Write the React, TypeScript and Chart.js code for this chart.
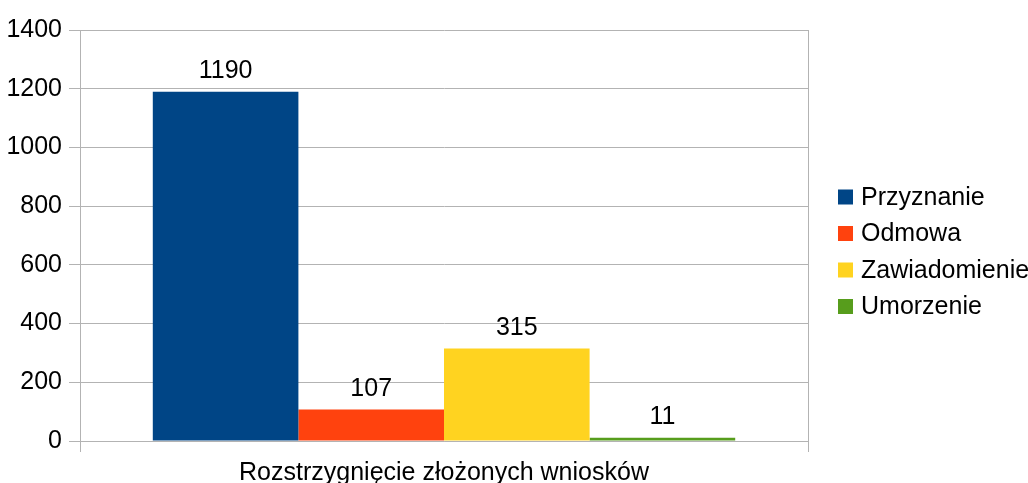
import React, { useEffect, useRef } from "react";
import { Chart, registerables } from "chart.js";

Chart.register(...registerables);

const categories = ["Rozstrzygnięcie złożonych wniosków"];
const seriesNames = ["Przyznanie", "Odmowa", "Zawiadomienie", "Umorzenie"];
const seriesValues = [[1190], [107], [315], [11]];
const seriesColors = ["#004586", "#ff420e", "#ffd320", "#579d1c"];
const yTicks = [0, 200, 400, 600, 800, 1000, 1200, 1400];

const FONT = "Liberation Sans, Arial, sans-serif";
const FONT_SIZE = 25;

const labelsPlugin = {
  id: "valueLabels",
  afterDatasetsDraw(chart: any) {
    const ctx = chart.ctx;
    ctx.save();
    ctx.font = `${FONT_SIZE}px ${FONT}`;
    ctx.fillStyle = "#000";
    ctx.textAlign = "center";
    ctx.textBaseline = "alphabetic";
    chart.data.datasets.forEach((ds: any, i: number) => {
      const meta = chart.getDatasetMeta(i);
      meta.data.forEach((bar: any, j: number) => {
        ctx.fillText(String(ds.data[j]), bar.x, bar.y - 14);
      });
    });
    ctx.restore();
  },
};

const legendPlugin = {
  id: "customLegend",
  afterDraw(chart: any) {
    const ctx = chart.ctx;
    ctx.save();
    ctx.font = `${FONT_SIZE}px ${FONT}`;
    ctx.textBaseline = "middle";
    ctx.textAlign = "left";
    const x0 = chart.chartArea.right + 30;
    chart.data.datasets.forEach((ds: any, i: number) => {
      const cy = 197 + i * 36.5;
      ctx.fillStyle = ds.backgroundColor;
      ctx.fillRect(x0, cy - 7.5, 15, 15);
      ctx.fillStyle = "#000";
      ctx.fillText(ds.label, x0 + 23, cy + 1);
    });
    ctx.restore();
  },
};

export default function App() {
  const ref = useRef<HTMLCanvasElement>(null);
  useEffect(() => {
    if (!ref.current) return;
    const chart = new Chart(ref.current, {
      type: "bar",
      data: {
        labels: categories,
        datasets: seriesNames.map((name, i) => ({
          label: name,
          data: seriesValues[i],
          backgroundColor: seriesColors[i],
          borderWidth: 0,
          barPercentage: 1.0,
          categoryPercentage: 0.8,
        })),
      },
      options: {
        animation: false,
        responsive: false,
        maintainAspectRatio: false,
        layout: { padding: { top: 30, right: 220, left: 0, bottom: 0 } },
        plugins: {
          legend: { display: false },
          tooltip: { enabled: false },
        },
        scales: {
          x: {
            grid: {
              offset: true,
              color: "#b3b3b3",
              lineWidth: 1,
              tickLength: 11,
            },
            border: { color: "#b3b3b3" },
            ticks: {
              color: "#000",
              font: { family: FONT, size: FONT_SIZE },
              padding: 6,
            },
            afterFit(scale: any) {
              scale.height = 42;
            },
          },
          y: {
            min: 0,
            max: 1400,
            grid: { color: "#b3b3b3", lineWidth: 1, tickLength: 11 },
            border: { color: "#b3b3b3" },
            afterBuildTicks(scale: any) {
              scale.ticks = yTicks.map((v) => ({ value: v }));
            },
            ticks: {
              color: "#000",
              font: { family: FONT, size: FONT_SIZE },
              padding: 7,
              callback: (v: any) => String(v),
            },
            afterFit(scale: any) {
              scale.width = 80;
            },
          },
        },
      },
      plugins: [labelsPlugin, legendPlugin],
    });
    return () => chart.destroy();
  }, []);
  return (
    <div style={{ position: "fixed", left: 0, top: 0, width: 1028, height: 483, background: "#fff" }}>
      <canvas ref={ref} width={1028} height={483} style={{ width: 1028, height: 483 }} />
    </div>
  );
}
